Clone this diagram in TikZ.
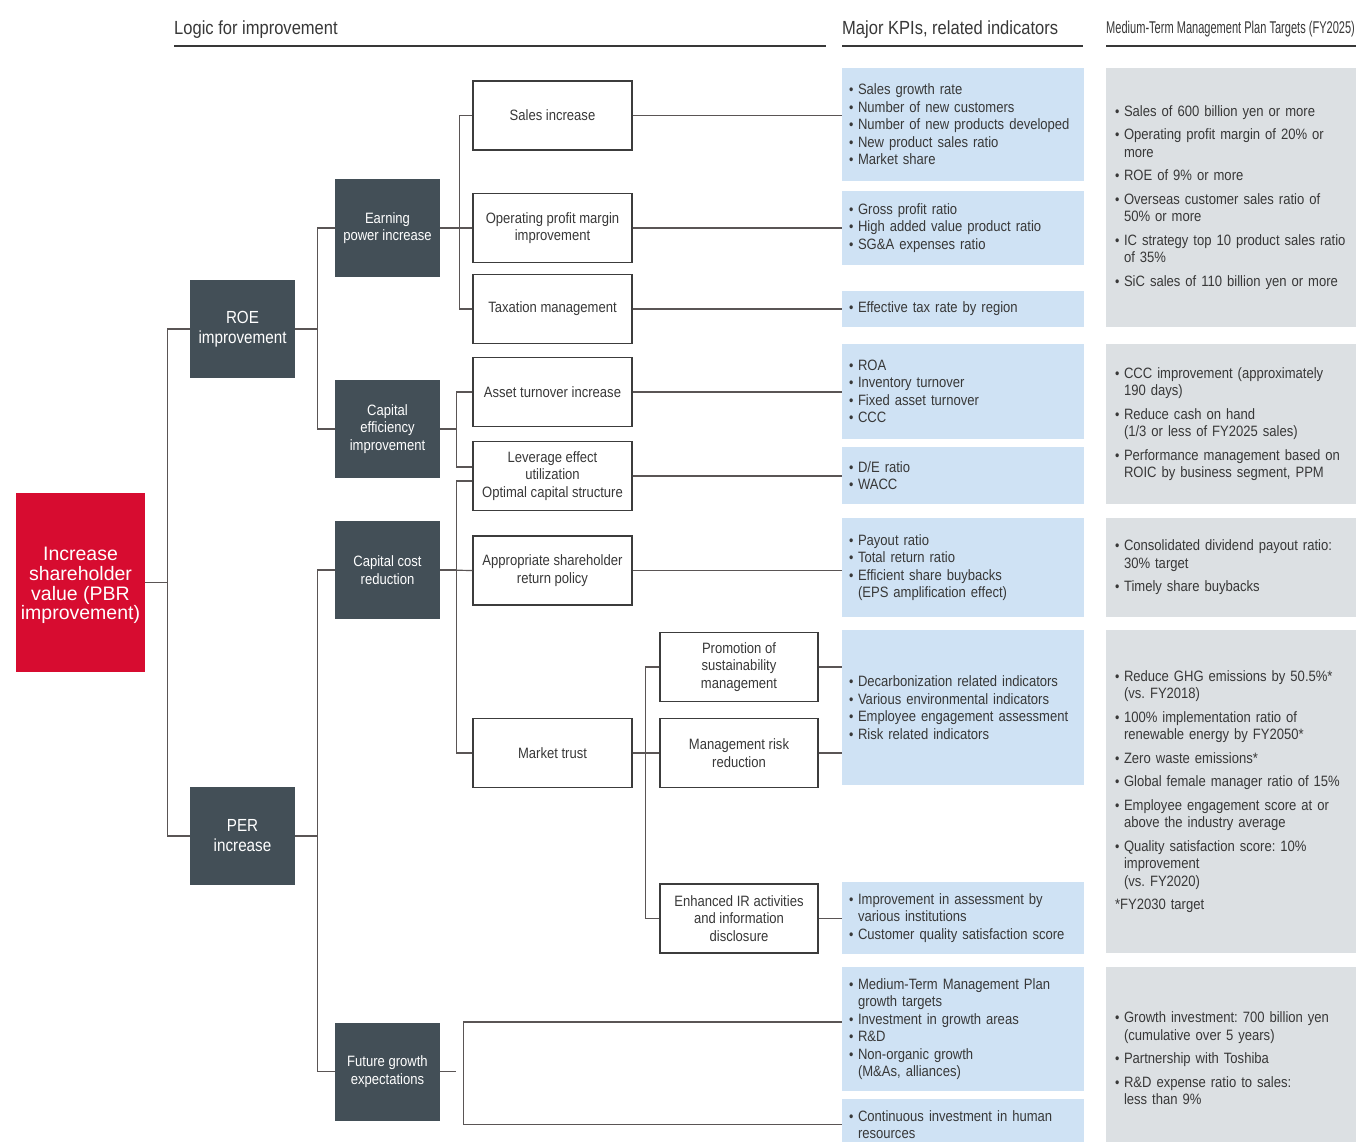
\documentclass[tikz,border=0pt]{standalone}
\usepackage{fontspec}
\setmainfont{Liberation Sans}[FakeStretch=0.87]
\newfontfamily\widefont{Liberation Sans}
\newfontfamily\headfont{Liberation Sans}[FakeStretch=0.65]
\usepackage{graphicx}
\usepackage{tikz}
\usetikzlibrary{positioning}
\usepackage{xcolor}
\frenchspacing

\definecolor{slate}{HTML}{434F57}
\definecolor{pbrred}{HTML}{D70C30}
\definecolor{kpiblue}{HTML}{CFE2F4}
\definecolor{tgtgray}{HTML}{DCE0E3}
\definecolor{ink}{HTML}{383838}
\definecolor{wire}{HTML}{5A5555}
\definecolor{boxline}{HTML}{3C3C3C}

\newcommand{\bul}{\makebox[9pt][l]{\scalebox{0.95}{\textbullet}}}
\newcommand{\bcont}{\hspace*{9pt}}

\begin{document}
\begin{tikzpicture}[x=1pt,y=-1pt,
    wire/.style={draw=wire,line width=1.2pt},
    hub/.style={fill=pbrred,text=white,minimum width=129pt,minimum height=179pt,inner sep=0pt,align=center,font=\widefont\fontsize{19.5}{19.7}\selectfont},
    stage/.style={fill=slate,text=white,minimum width=105pt,minimum height=98pt,inner sep=0pt,align=center,font=\fontsize{15}{17.5}\selectfont},
    major/.style={stage,font=\fontsize{17.5}{20}\selectfont},
    lever/.style={draw=boxline,line width=1.3pt,fill=white,text=ink,minimum width=159pt,minimum height=69pt,inner sep=0pt,align=center,font=\fontsize{15}{17.5}\selectfont},
    kpi/.style={fill=kpiblue,text=ink,text width=228pt,inner xsep=7pt,inner ysep=0pt,align=left,font=\fontsize{15}{17.5}\selectfont},
    target/.style={fill=tgtgray,text=ink,text width=232pt,inner xsep=9pt,inner ysep=0pt,align=left,font=\fontsize{15}{17.5}\selectfont},
    colhead/.style={anchor=base west,inner sep=0pt,text=ink,font=\fontsize{19}{22}\selectfont},
    headrule/.style={draw=ink,line width=1.5pt}]
  \useasboundingbox (0,0) rectangle (1361,1142);
  \fill[white] (0,0) rectangle (1361,1142);
  % Column headings
  \node[colhead] (hLogic) at (174,35) {Logic for improvement};
  \node[colhead] (hKpi) at (842,35) {Major KPIs, related indicators};
  \node[colhead,font=\headfont\fontsize{17}{20}\selectfont] (hPlan) at (1106,34) {Medium-Term Management Plan Targets (FY2025)};
  \draw[headrule] (174,46) -- (826,46);
  \draw[headrule] (842,46) -- (1083,46);
  \draw[headrule] (1106,46) -- (1356,46);
  % Goal and drivers
  \node[hub] (pbr) at (80.5,582.5) {\raisebox{-3pt}[\height][\depth]{\parbox{129pt}{\centering Increase\\shareholder\\value (PBR\\improvement)}}};
  \node[major] (roe) at (242.5,329) {ROE\\improvement};
  \node[major] (per) at (242.5,836) {PER\\increase};
  \node[stage] (earn) at (387.5,228) {Earning\\power increase};
  \node[stage] (capeff) at (387.5,429) {Capital\\efficiency\\improvement};
  \node[stage] (capcost) at (387.5,570) {Capital cost\\reduction};
  \node[stage] (future) at (387.5,1071.5) {Future growth\\expectations};
  % Levers
  \node[lever] (sales) at (552.5,115.5) {Sales increase};
  \node[lever] (opm) at (552.5,228) {Operating profit margin\\improvement};
  \node[lever] (tax) at (552.5,309) {Taxation management};
  \node[lever] (asset) at (552.5,392) {Asset turnover increase};
  \node[lever] (levg) at (552.5,476) {Leverage effect\\utilization\\Optimal capital structure};
  \node[lever] (payout) at (552.5,570.5) {Appropriate shareholder\\return policy};
  \node[lever] (trust) at (552.5,753) {Market trust};
  \node[lever,minimum width=158pt] (sust) at (739,667) {Promotion of\\sustainability\\management};
  \node[lever,minimum width=158pt] (risk) at (739,753) {Management risk\\reduction};
  \node[lever,minimum width=158pt] (ir) at (739,918.5) {Enhanced IR activities\\and information\\disclosure};
  % KPI boxes
  \node[kpi,minimum height=113pt] (k1) at (963,124.5) {\bul Sales growth rate\\\bul Number of new customers\\\bul Number of new products developed\\\bul New product sales ratio\\\bul Market share};
  \node[kpi,minimum height=74pt] (k2) at (963,228) {\bul Gross profit ratio\\\bul High added value product ratio\\\bul SG\&A expenses ratio};
  \node[kpi,minimum height=36pt] (k3) at (963,309) {\bul Effective tax rate by region};
  \node[kpi,minimum height=95pt] (k4) at (963,391.5) {\bul ROA\\\bul Inventory turnover\\\bul Fixed asset turnover\\\bul CCC};
  \node[kpi,minimum height=57pt] (k5) at (963,475.5) {\bul D/E ratio\\\bul WACC};
  \node[kpi,minimum height=99pt] (k6) at (963,567.5) {\bul Payout ratio\\\bul Total return ratio\\\bul Efficient share buybacks\\\bcont (EPS amplification effect)};
  \node[kpi,minimum height=155pt] (k7) at (963,707.5) {\bul Decarbonization related indicators\\\bul Various environmental indicators\\\bul Employee engagement assessment\\\bul Risk related indicators};
  \node[kpi,minimum height=72pt] (k8) at (963,918) {\bul Improvement in assessment by\\\bcont various institutions\\\bul Customer quality satisfaction score};
  \node[kpi,minimum height=124pt] (k9) at (963,1029) {\bul Medium-Term Management Plan\\\bcont growth targets\\\bul Investment in growth areas\\\bul R\&D\\\bul Non-organic growth\\\bcont (M\&As, alliances)};
  \node[kpi,minimum height=51pt] (k10) at (963,1124.5) {\bul Continuous investment in human\\\bcont resources};
  % Plan targets
  \node[target,minimum height=259pt] (t1) at (1231,197.5) {\bul Sales of 600 billion yen or more\\[6pt]\bul Operating profit margin of 20\% or\\\bcont more\\[6pt]\bul ROE of 9\% or more\\[6pt]\bul Overseas customer sales ratio of\\\bcont 50\% or more\\[6pt]\bul \mbox{IC strategy top 10 product sales ratio}\\\bcont of 35\%\\[6pt]\bul SiC sales of 110 billion yen or more};
  \node[target,minimum height=160pt] (t2) at (1231,424) {\bul CCC improvement (approximately\\\bcont 190 days)\\[6pt]\bul Reduce cash on hand\\\bcont (1/3 or less of FY2025 sales)\\[6pt]\bul Performance management based on\\\bcont ROIC by business segment, PPM};
  \node[target,minimum height=99pt] (t3) at (1231,567.5) {\bul Consolidated dividend payout ratio:\\\bcont 30\% target\\[6pt]\bul Timely share buybacks};
  \node[target,minimum height=323pt] (t4) at (1231,791.5) {\bul Reduce GHG emissions by 50.5\%*\\\bcont (vs. FY2018)\\[6pt]\bul 100\% implementation ratio of\\\bcont renewable energy by FY2050*\\[6pt]\bul Zero waste emissions*\\[6pt]\bul Global female manager ratio of 15\%\\[6pt]\bul Employee engagement score at or\\\bcont above the industry average\\[6pt]\bul Quality satisfaction score: 10\%\\\bcont improvement\\\bcont (vs. FY2020)\\[6pt]{*}FY2030 target};
  \node[target,minimum height=183pt] (t5) at (1231,1058.5) {\bul Growth investment: 700 billion yen\\\bcont (cumulative over 5 years)\\[6pt]\bul Partnership with Toshiba\\[6pt]\bul R\&D expense ratio to sales:\\\bcont less than 9\%};
  % Tree connectors
  \draw[wire] (pbr.east) -- ++(22,0) |- (roe.west);
  \draw[wire] (pbr.east) -- ++(22,0) |- (per.west);
  \draw[wire] (roe.east) -- ++(22,0) |- (earn.west);
  \draw[wire] (roe.east) -- ++(22,0) |- (capeff.west);
  \draw[wire] (per.east) -- ++(22,0) |- (capcost.west);
  \draw[wire] (per.east) -- ++(22,0) |- (future.west);
  \draw[wire] (earn.east) -- ++(19,0) |- (sales.west);
  \draw[wire] (earn.east) -- ++(19,0) |- (tax.west);
  \draw[wire] (earn.east) -- (opm.west);
  \draw[wire] (capeff.east) -- ++(16,0) |- (asset.west);
  \draw[wire] (capeff.east) -- ++(16,0) |- ([yshift=9pt]levg.west);
  \draw[wire] (capcost.east) -- (payout.west);
  \draw[wire] (capcost.east) -- ++(16,0) |- ([yshift=-5pt]levg.west);
  \draw[wire] (capcost.east) -- ++(16,0) |- (trust.west);
  \draw[wire] (trust.east) -- (risk.west);
  \draw[wire] (trust.east) -- ++(13,0) |- (sust.west);
  \draw[wire] (trust.east) -- ++(13,0) |- (ir.west);
  \draw[wire] (future.east) -- ++(16,0);
  \draw[wire] ([yshift=7pt]k9.west) -- ++(-378,0) |- (k10.west);
  % Links to the indicators
  \foreach \a/\b in {sales/k1,opm/k2,tax/k3,asset/k4,levg/k5,payout/k6,sust/k7,risk/k7,ir/k8}
    \draw[wire] (\a.east) -- (\a.east -| \b.west);
\end{tikzpicture}
\end{document}
